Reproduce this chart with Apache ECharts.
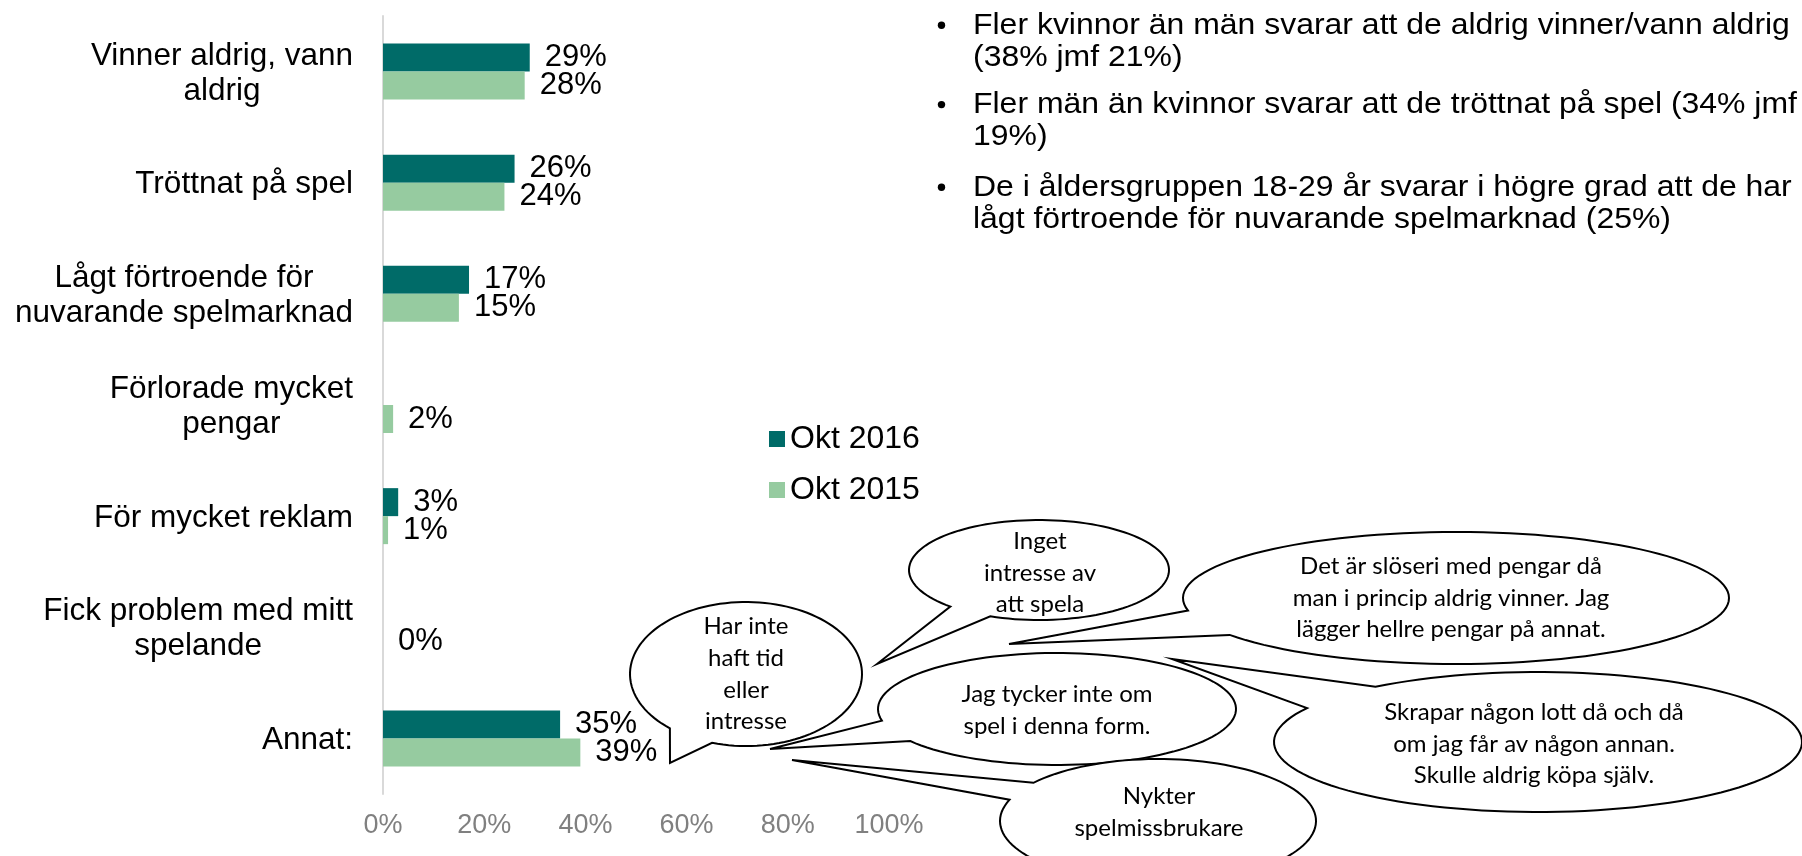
<!DOCTYPE html>
<html>
<head>
<meta charset="utf-8">
<script src="https://cdn.jsdelivr.net/npm/echarts@6/dist/echarts.min.js"></script>
<style>
  html, body { margin: 0; padding: 0; background: #fff; }
  #chart { width: 1802px; height: 856px; }
</style>
</head>
<body>
<div id="chart"></div>
<script>
// data
const categories = [
  'Vinner aldrig, vann\naldrig',
  'Tröttnat på spel',
  'Lågt förtroende för\nnuvarande spelmarknad',
  'Förlorade mycket\npengar',
  'För mycket reklam',
  'Fick problem med mitt\nspelande',
  'Annat:'
];
const okt2016 = [29, 26, 17, null, 3, null, 35];
const okt2015 = [28, 24, 15, 2, 1, 0, 39];
const seriesNames = ['Okt 2016', 'Okt 2015'];

const bullets = [
  'Fler kvinnor än män svarar att de aldrig vinner/vann aldrig\n(38% jmf 21%)',
  'Fler män än kvinnor svarar att de tröttnat på spel (34% jmf\n19%)',
  'De i åldersgruppen 18-29 år svarar i högre grad att de har\nlågt förtroende för nuvarande spelmarknad (25%)'
];

const quotes = [
  'Inget\nintresse av\natt spela',
  'Det är slöseri med pengar då\nman i princip aldrig vinner. Jag\nlägger hellre pengar på annat.',
  'Har inte\nhaft tid\neller\nintresse',
  'Jag tycker inte om\nspel i denna form.',
  'Skrapar någon lott då och då\nom jag får av någon annan.\nSkulle aldrig köpa själv.',
  'Nykter\nspelmissbrukare'
];

// speech bubble placement (ellipse, tail base angles in degrees, tail tip, text centre)
const bubbleLayout = [
  { cx: 1039, cy: 570, rx: 130, ry: 50, a1: 112, a2: 133, tip: [877, 664], tx: 1040, ty: 573 },
  { cx: 1456, cy: 598, rx: 273, ry: 66, a1: 146, a2: 169, tip: [1009, 644], tx: 1451, ty: 598 },
  { cx: 746, cy: 674, rx: 116, ry: 72, a1: 107, a2: 131, tip: [670, 763], tx: 746, ty: 674 },
  { cx: 1057, cy: 709, rx: 179, ry: 56, a1: 145, a2: 168, tip: [770, 749], tx: 1057, ty: 710 },
  { cx: 1538, cy: 742, rx: 264, ry: 70, a1: 209, a2: 232, tip: [1172, 659], tx: 1534, ty: 744 },
  { cx: 1158, cy: 821, rx: 158, ry: 62, a1: 200, a2: 218, tip: [792, 760], tx: 1159, ty: 812 }
];
// centre line of each bullet paragraph
const bulletY = [41.4, 120.7, 203.4];

const FONT = '"Liberation Sans", Arial, sans-serif';
const QFONT = 'Lato, "Open Sans", sans-serif';

function bubblePoints(b) {
  const pts = [b.tip];
  const s = b.a2 * Math.PI / 180;
  const e = (b.a1 + 360) * Math.PI / 180;
  const steps = 120;
  for (let i = 0; i <= steps; i++) {
    const t = s + (e - s) * i / steps;
    pts.push([b.cx + b.rx * Math.cos(t), b.cy + b.ry * Math.sin(t)]);
  }
  return pts;
}

const graphics = [];
bubbleLayout.forEach(function (b, i) {
  graphics.push({
    type: 'polygon',
    z: 10 + i * 2,
    shape: { points: bubblePoints(b) },
    style: { fill: '#fff', stroke: '#000', lineWidth: 2 }
  });
  graphics.push({
    type: 'text',
    z: 11 + i * 2,
    x: b.tx,
    y: b.ty,
    style: {
      text: quotes[i],
      fontSize: 24,
      fontFamily: QFONT,
      lineHeight: 31.7,
      fill: '#000',
      align: 'center',
      verticalAlign: 'middle',
      textAlign: 'center',
      textVerticalAlign: 'middle'
    }
  });
});

// bullet list top right
bullets.forEach(function (t, i) {
  graphics.push({
    type: 'circle',
    shape: { cx: 941.5, cy: bulletY[i] - 16.1, r: 3.7 },
    style: { fill: '#000' }
  });
  graphics.push({
    type: 'text',
    x: 973,
    y: bulletY[i],
    scaleX: 1.065,
    style: {
      text: t,
      fontSize: 30,
      fontFamily: FONT,
      lineHeight: 32.2,
      fill: '#000',
      align: 'left',
      verticalAlign: 'middle',
      textAlign: 'left',
      textVerticalAlign: 'middle'
    }
  });
});

const chart = echarts.init(document.getElementById('chart'));
chart.setOption({
  backgroundColor: '#fff',
  animation: false,
  textStyle: { fontFamily: FONT },
  grid: { left: 383, right: 913, top: 16, bottom: 62 },
  legend: {
    data: seriesNames,
    orient: 'vertical',
    left: 764,
    top: 417,
    icon: 'rect',
    itemWidth: 16,
    itemHeight: 16,
    itemGap: 17,
    textStyle: { fontSize: 32, lineHeight: 34, color: '#000', fontFamily: FONT }
  },
  xAxis: {
    type: 'value',
    min: 0,
    max: 100,
    interval: 20,
    axisLine: { show: false },
    axisTick: { show: false },
    splitLine: { show: false },
    axisLabel: { formatter: '{value}%', fontSize: 27, color: '#808080', margin: 18, fontFamily: FONT }
  },
  yAxis: {
    type: 'category',
    inverse: true,
    data: categories,
    axisLine: { show: true, lineStyle: { color: '#d9d9d9', width: 2 } },
    axisTick: { show: false },
    axisLabel: {
      margin: 30,
      align: 'right',
      padding: [4, 0, 0, 0],
      formatter: function (v) {
        return v.split('\n').map(function (l) { return '{c|' + l + '}'; }).join('\n');
      },
      rich: {
        c: { align: 'center', fontSize: 31.5, lineHeight: 35, color: '#000', fontFamily: FONT }
      }
    }
  },
  series: [
    {
      name: 'Okt 2016',
      type: 'bar',
      data: okt2016,
      barWidth: 28,
      barGap: '0%',
      itemStyle: { color: '#006b68' },
      label: { show: true, position: 'right', distance: 15, formatter: '{c}%', fontSize: 31, color: '#000', fontFamily: FONT }
    },
    {
      name: 'Okt 2015',
      type: 'bar',
      data: okt2015,
      barWidth: 28,
      barGap: '0%',
      itemStyle: { color: '#96cba0' },
      label: { show: true, position: 'right', distance: 15, formatter: '{c}%', fontSize: 31, color: '#000', fontFamily: FONT }
    }
  ],
  graphic: graphics
});
</script>
</body>
</html>
